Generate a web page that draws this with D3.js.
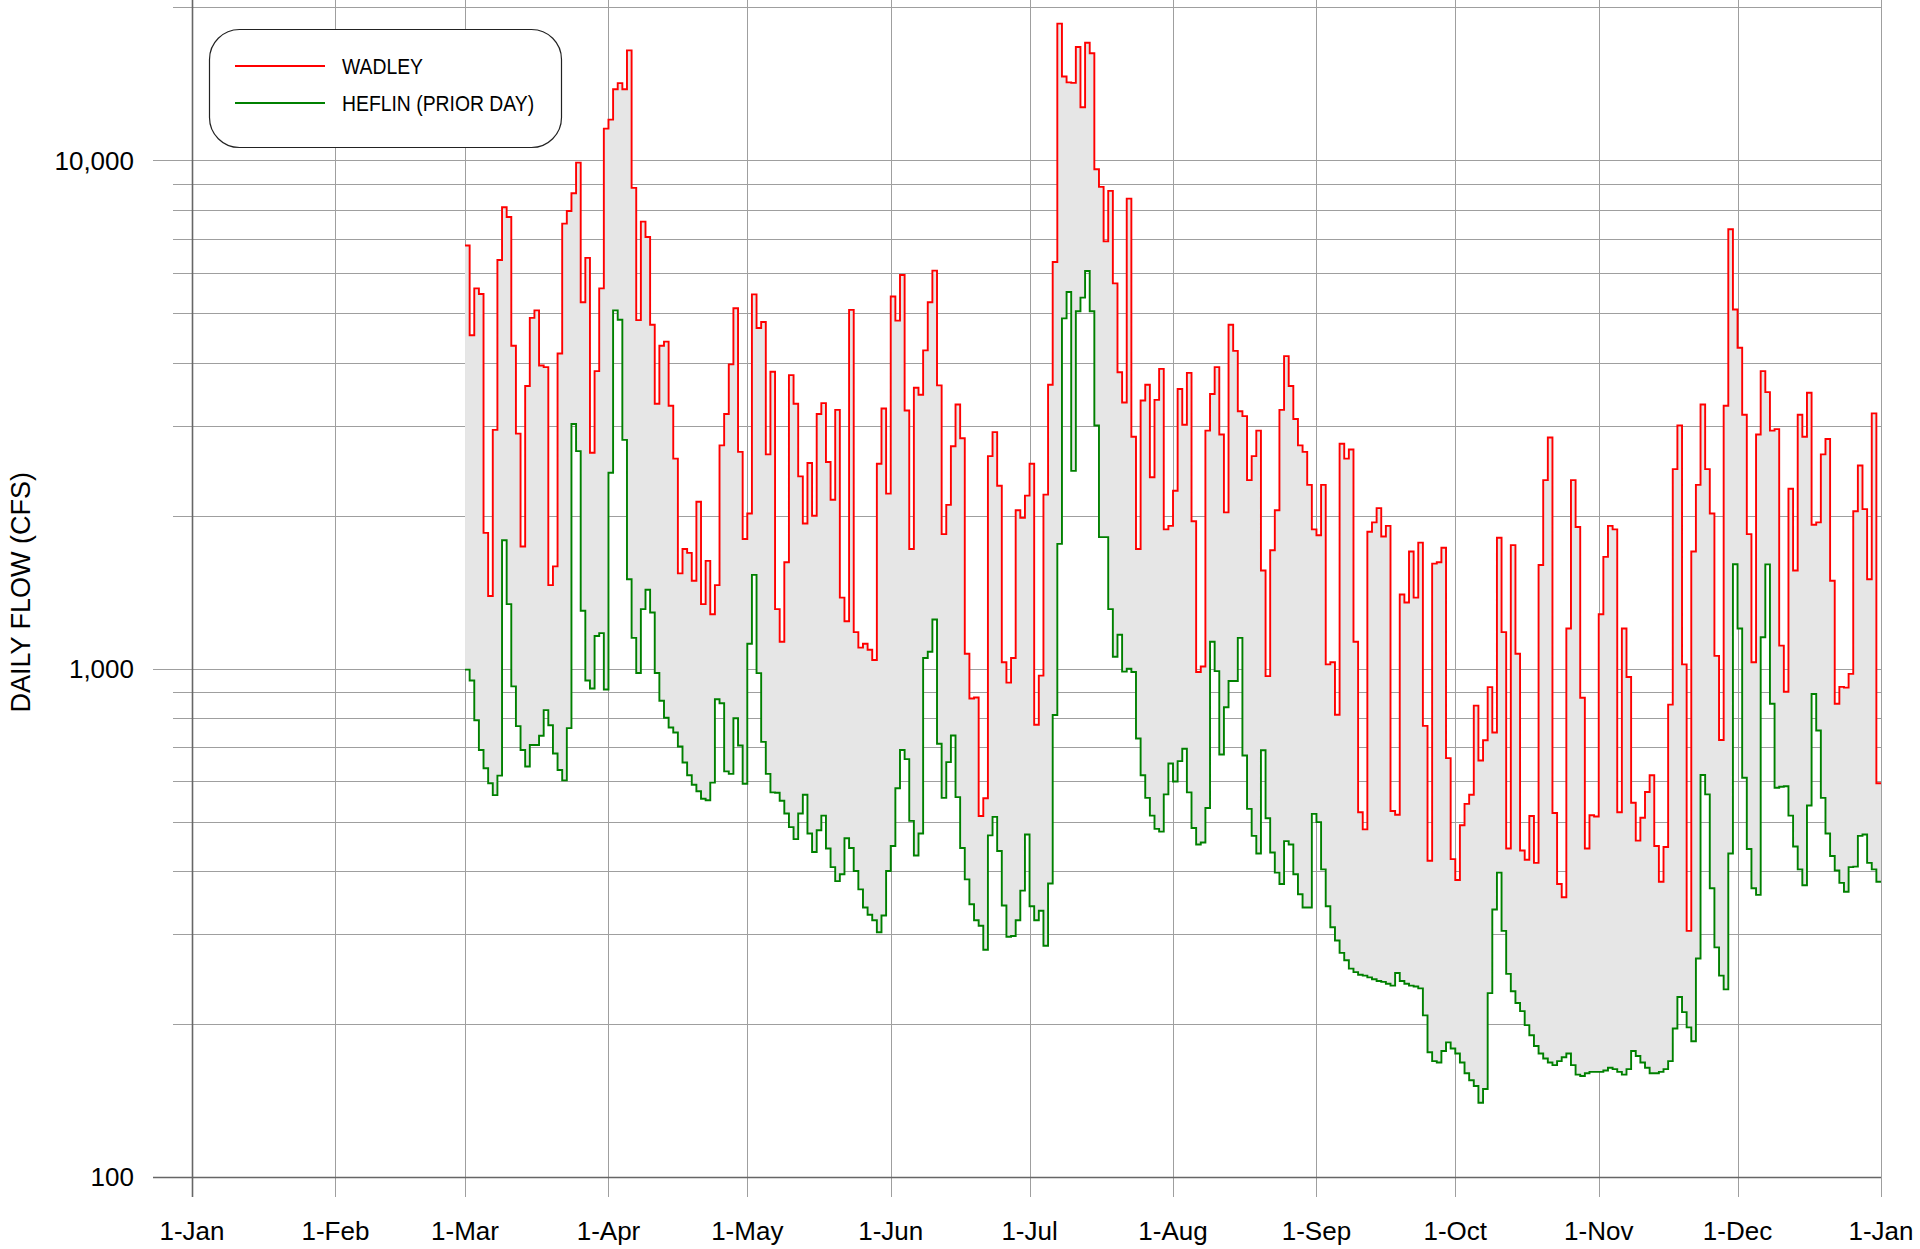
<!DOCTYPE html>
<html>
<head>
<meta charset="utf-8">
<script src="https://cdn.jsdelivr.net/npm/d3@7"></script>
<style>
  html, body { margin: 0; padding: 0; background: #fff; }
  svg { display: block; font-family: "Liberation Sans", Arial, sans-serif; }
</style>
</head>
<body>
<svg id="chart" width="1920" height="1249"></svg>
<script>
// daily flows, 1-Mar through 31-Dec (one value per day)
const firstDay = "2023-03-01";

const wadley = [
  // Mar
  6800, 4530, 5600, 5460, 1850, 1390, 2950, 6370, 8090, 7740, 4320, 2900, 1740, 3600, 4900, 5070,
  3950, 3920, 1460, 1590, 4170, 7510, 7950, 8620, 9900, 5260, 6430, 2660, 3850, 5600, 11550,
  // Apr
  12030, 13800, 14190, 13800, 16460, 8830, 4850, 7580, 7070, 4750, 3320, 4320, 4400, 3290, 2590,
  1540, 1720, 1690, 1490, 2130, 1340, 1630, 1280, 1460, 2750, 3170, 3970, 5120, 2670, 1800,
  // May
  2020, 5450, 4680, 4810, 2640, 3840, 1310, 1130, 1620, 3780, 3320, 2390, 1930, 2540, 2000, 3170,
  3330, 2550, 2150, 3230, 1380, 1240, 5080, 1180, 1100, 1120, 1090, 1040, 2530, 3250, 2210,
  // Jun
  5400, 4840, 5950, 3220, 1720, 3570, 3460, 4230, 5260, 6070, 3610, 1840, 2100, 2740, 3310,
  2840, 1070, 874, 878, 513, 556, 2620, 2920, 2290, 1030, 939, 1050, 2050, 1980, 2190,
  // Jul
  2530, 776, 969, 2200, 3620, 6310, 18580, 14620, 14240, 14210, 16720, 12720, 17040, 16250, 9610,
  8870, 6930, 8710, 5730, 3830, 3340, 8410, 2860, 1720, 3370, 3620, 2380, 3380, 3890, 1880, 1910,
  // Aug
  2240, 3550, 3020, 3820, 1950, 985, 1010, 2940, 3470, 3920, 2890, 2030, 4750, 4220, 3210, 3140,
  2350, 2620, 2940, 1560, 967, 1710, 2050, 3230, 4120, 3600, 3100, 2750, 2670, 2300, 1880,
  // Sep
  1830, 2300, 1020, 1030, 812, 2770, 2590, 2700, 1130, 522, 483, 1860, 1940, 2070, 1820,
  1910, 525, 516, 1400, 1350, 1700, 1380, 1770, 772, 419, 1610, 1620, 1730, 667, 422,
  // Oct
  384, 492, 542, 565, 846, 660, 723, 920, 749, 1810, 1180, 443, 1750, 1070, 439, 421,
  513, 415, 1600, 2350, 2850, 520, 377, 355, 1200, 2350, 1900, 877, 443, 515, 512,
  // Nov
  1280, 1660, 1910, 1880, 522, 1200, 963, 545, 459, 509, 572, 617, 448, 381, 446,
  850, 2470, 3010, 1020, 305, 1700, 2300, 3310, 2470, 2020, 1060, 724, 3290, 7320, 5090,
  // Dec
  4280, 3160, 1840, 1030, 2890, 3850, 3500, 2940, 2960, 1110, 901, 2260, 1560, 3160, 2860, 3490,
  1920, 1940, 2640, 2830, 1490, 853, 921, 918, 977, 2040, 2510, 2060, 1500, 3180, 595
];

const heflin = [
  // Mar
  996, 948, 792, 692, 637, 595, 564, 616, 1790, 1340, 923, 771, 692, 642, 708, 708,
  738, 829, 774, 681, 632, 603, 764, 3030, 2680, 1300, 948, 914, 1160, 1175, 910,
  // Apr
  2430, 5070, 4860, 2820, 1500, 1150, 981, 1310, 1430, 1290, 981, 865, 801, 766, 749,
  703, 654, 617, 591, 574, 555, 551, 597, 871, 855, 628, 621, 799, 706, 594,
  // May
  1120, 1530, 980, 718, 621, 571, 570, 550, 519, 488, 462, 519, 565, 474, 436, 481,
  514, 443, 407, 382, 394, 464, 444, 400, 368, 339, 328, 320, 303, 327, 400,
  // Jun
  448, 582, 692, 664, 502, 429, 474, 1050, 1080, 1250, 712, 557, 655, 739, 559,
  444, 385, 344, 320, 312, 280, 470, 511, 438, 342, 297, 298, 320, 366, 472,
  // Jul
  341, 320, 334, 285, 378, 811, 1760, 4890, 5510, 2450, 5050, 5370, 6060, 5050, 3010, 1815,
  1815, 1310, 1056, 1166, 987, 1000, 985, 729, 617, 557, 514, 484, 478, 566, 651,
  // Aug
  600, 658, 696, 571, 486, 451, 455, 532, 1130, 989, 678, 840, 946, 946, 1150, 675,
  530, 469, 433, 691, 508, 435, 397, 377, 458, 451, 394, 360, 339, 339, 518,
  // Sep
  499, 403, 341, 310, 292, 276, 267, 257, 253, 250, 249, 247, 245, 243, 242,
  240, 238, 252, 243, 240, 238, 237, 235, 208, 176, 169, 168, 177, 184, 179,
  // Oct
  175, 168, 160, 155, 151, 140, 149, 230, 336, 397, 305, 251, 232, 220, 212, 199,
  190, 181, 175, 171, 168, 166, 169, 172, 175, 166, 159, 158, 160, 161, 161,
  // Nov
  161, 162, 164, 163, 161, 159, 163, 177, 173, 168, 164, 160, 160, 161, 163,
  169, 196, 226, 211, 197, 185, 269, 618, 566, 370, 283, 249, 234, 433, 1605,
  // Dec
  1200, 610, 442, 370, 359, 1153, 1604, 853, 583, 586, 587, 514, 447, 403, 375, 538,
  892, 756, 557, 474, 428, 401, 379, 364, 407, 408, 469, 472, 415, 403, 381
];

const seriesNames = ["WADLEY", "HEFLIN (PRIOR DAY)"];
const seriesColors = ["#ff0000", "#008000"];
const monthLabels = ["1-Jan", "1-Feb", "1-Mar", "1-Apr", "1-May", "1-Jun", "1-Jul",
                     "1-Aug", "1-Sep", "1-Oct", "1-Nov", "1-Dec", "1-Jan"];
const yTickValues = [100, 1000, 10000];
const yTitle = "DAILY FLOW (CFS)";

const width = 1920, height = 1249;
const margin = {top: 7.4, right: 39, bottom: 72, left: 192};

const svg = d3.select("#chart");

const x = d3.scaleUtc()
    .domain([Date.UTC(2023, 0, 1), Date.UTC(2024, 0, 1)])
    .range([margin.left, width - margin.right]);

const y = d3.scaleLog()
    .domain([100, 20000])
    .range([height - margin.bottom, margin.top]);

const start = new Date(firstDay + "T00:00:00Z");
const rows = wadley.map((w, i) => ({date: d3.utcDay.offset(start, i), w, h: heflin[i]}));
// closing point so the last day gets its own step
const last = rows[rows.length - 1];
rows.push({date: d3.utcDay.offset(last.date, 1), w: last.w, h: last.h});

const x0 = margin.left, x1 = width - margin.right;
const yBottom = height - margin.bottom;

// horizontal grid (every 1-9 x decade), with tick stubs to the left
const grid = svg.append("g");
grid.selectAll("line.h")
  .data(y.ticks().filter(v => v > 100))
  .join("line")
    .attr("x1", d => yTickValues.includes(d) ? 153 : 173)
    .attr("x2", x1)
    .attr("y1", d => Math.round(y(d)) + 0.5)
    .attr("y2", d => Math.round(y(d)) + 0.5)
    .attr("stroke", "#9f9f9f")
    .attr("stroke-width", 1);

// vertical month lines
const months = d3.utcMonth.range(x.domain()[0], d3.utcDay.offset(x.domain()[1], 1));
grid.selectAll("line.v")
  .data(months.slice(1))
  .join("line")
    .attr("x1", d => Math.round(x(d)) + 0.5)
    .attr("x2", d => Math.round(x(d)) + 0.5)
    .attr("y1", 0)
    .attr("y2", yBottom + 20)
    .attr("stroke", "#9f9f9f")
    .attr("stroke-width", 1);

// shaded band between the two flows
svg.append("path")
    .datum(rows)
    .attr("fill", "#e6e6e6")
    .attr("d", d3.area()
        .curve(d3.curveStepAfter)
        .x(d => x(d.date))
        .y0(d => y(d.h))
        .y1(d => y(d.w)));

const line = key => d3.line()
    .curve(d3.curveStepAfter)
    .x(d => x(d.date))
    .y(d => y(d[key]));

svg.append("path")
    .datum(rows)
    .attr("fill", "none")
    .attr("stroke", seriesColors[1])
    .attr("stroke-width", 1.9)
    .attr("d", line("h"));

svg.append("path")
    .datum(rows)
    .attr("fill", "none")
    .attr("stroke", seriesColors[0])
    .attr("stroke-width", 1.9)
    .attr("d", line("w"));

// axis lines
svg.append("line")
    .attr("x1", 153).attr("x2", x1)
    .attr("y1", Math.round(yBottom) + 0.5).attr("y2", Math.round(yBottom) + 0.5)
    .attr("stroke", "#666").attr("stroke-width", 1.6);
svg.append("line")
    .attr("x1", Math.round(x0) + 0.5).attr("x2", Math.round(x0) + 0.5)
    .attr("y1", 0).attr("y2", yBottom + 20)
    .attr("stroke", "#666").attr("stroke-width", 1.6);

// y tick labels
svg.append("g")
    .attr("font-size", 26)
    .attr("text-anchor", "end")
  .selectAll("text")
  .data(yTickValues)
  .join("text")
    .attr("x", 134)
    .attr("y", d => y(d))
    .attr("dy", "0.35em")
    .text(d3.format(","));

// x tick labels
svg.append("g")
    .attr("font-size", 26)
    .attr("text-anchor", "middle")
  .selectAll("text")
  .data(months)
  .join("text")
    .attr("x", d => x(d))
    .attr("y", 1240)
    .text((d, i) => monthLabels[i]);

// y title
svg.append("text")
    .attr("transform", `translate(30,${(margin.top + yBottom) / 2}) rotate(-90)`)
    .attr("text-anchor", "middle")
    .attr("font-size", 27)
    .text(yTitle);

// legend
const legend = svg.append("g");
legend.append("rect")
    .attr("x", 209.5).attr("y", 29.5)
    .attr("width", 352).attr("height", 118)
    .attr("rx", 30).attr("ry", 30)
    .attr("fill", "#fff")
    .attr("stroke", "#222")
    .attr("stroke-width", 1.2);

seriesNames.forEach((name, i) => {
  const ly = 66 + i * 37;
  legend.append("line")
      .attr("x1", 235).attr("x2", 325)
      .attr("y1", ly).attr("y2", ly)
      .attr("stroke", seriesColors[i])
      .attr("stroke-width", 1.9);
  // narrow lettering, as in the original legend
  legend.append("text")
      .attr("transform", `translate(342,${ly}) scale(0.88,1)`)
      .attr("dy", "0.35em")
      .attr("font-size", 22)
      .text(name);
});
</script>
</body>
</html>
